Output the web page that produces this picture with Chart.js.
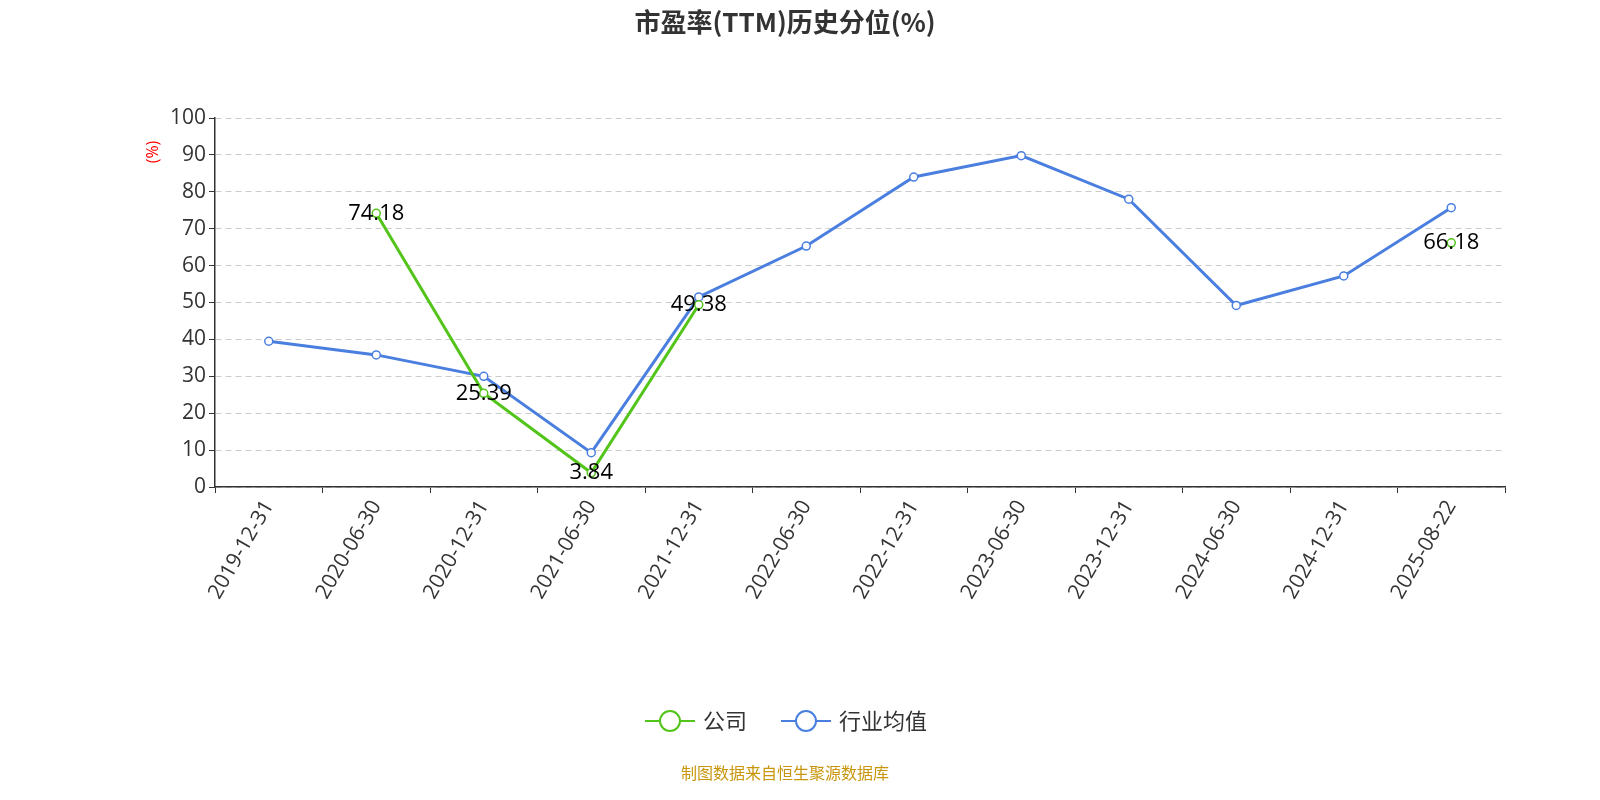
<!DOCTYPE html>
<html><head><meta charset="utf-8">
<script src="https://cdn.jsdelivr.net/npm/chart.js@4"></script>
<style>html,body{margin:0;padding:0;background:#fff;overflow:hidden}canvas{display:block}</style>
</head><body><canvas id="c" width="1600" height="800" style="width:1600px;height:800px"></canvas>
<script>
const categories=['2019-12-31','2020-06-30','2020-12-31','2021-06-30','2021-12-31','2022-06-30','2022-12-31','2023-06-30','2023-12-31','2024-06-30','2024-12-31','2025-08-22']
const companyValues=[null,74.18,25.39,3.84,49.38,null,null,null,null,null,null,66.18]
const industryValues=[39.5,35.8,30.0,9.3,51.5,65.3,84.0,89.8,78.0,49.2,57.2,75.7]
const yTicks=[0,10,20,30,40,50,60,70,80,90,100]
const FONT='"Open Sans","Noto Sans","Noto Sans CJK SC",sans-serif'
const CJK='"Noto Sans CJK SC",sans-serif'

const extras={
  id:'extras',
  afterDraw(chart){
    const ctx=chart.ctx
    ctx.save()
    ctx.fillStyle='#333'
    ctx.font='bold 26px '+CJK
    ctx.textAlign='center';ctx.textBaseline='middle'
    ctx.fillText('市盈率(TTM)历史分位(%)',785,22)
    ctx.save();ctx.translate(153,152);ctx.rotate(-Math.PI/2)
    ctx.fillStyle='#f00';ctx.font='16px '+FONT
    ctx.fillText('(%)',0,0);ctx.restore()
    const meta=chart.getDatasetMeta(0)
    ctx.fillStyle='#000';ctx.font='22px '+FONT
    meta.data.forEach((p,i)=>{
      if(companyValues[i]==null)return
      ctx.fillText(companyValues[i].toFixed(2),p.x,p.y)
    })
    const items=[['公司','#52c41a',645],['行业均值','#4a7fe0',781]]
    ctx.font='22px '+CJK;ctx.textAlign='left'
    items.forEach(([t,c,x])=>{
      ctx.strokeStyle=c;ctx.lineWidth=2
      ctx.beginPath();ctx.moveTo(x,721);ctx.lineTo(x+50,721);ctx.stroke()
      ctx.beginPath();ctx.arc(x+25,721,10,0,Math.PI*2);ctx.fillStyle='#fff';ctx.fill();ctx.stroke()
      ctx.fillStyle='#333';ctx.fillText(t,x+58,721)
    })
    ctx.fillStyle='#c8960c';ctx.font='16px '+CJK;ctx.textAlign='center'
    ctx.fillText('制图数据来自恒生聚源数据库',785,773)
    ctx.restore()
  }
}

new Chart(document.getElementById('c'),{
  type:'line',
  data:{labels:categories,datasets:[
    {label:'公司',data:companyValues,borderColor:'#52c41a',backgroundColor:'#fff',borderWidth:3,pointRadius:4,pointBorderWidth:1.5,tension:0,spanGaps:false},
    {label:'行业均值',data:industryValues,borderColor:'#4a7fe0',backgroundColor:'#fff',borderWidth:3,pointRadius:4,pointBorderWidth:1.5,tension:0}
  ]},
  options:{
    responsive:false,animation:false,devicePixelRatio:1,
    layout:{padding:{left:140,right:95,top:118,bottom:163}},
    plugins:{legend:{display:false},tooltip:{enabled:false}},
    scales:{
      x:{offset:true,
        grid:{offset:true,drawOnChartArea:false,drawTicks:true,tickLength:6,color:'#333'},
        border:{color:'#333',width:1.5},
        ticks:{color:'#333',font:{size:21,family:FONT},maxRotation:60,minRotation:60},
        afterFit(s){s.height=150}},
      y:{min:0,max:100,
        afterBuildTicks(s){s.ticks=yTicks.map(v=>({value:v}))},
        grid:{color:'#ccc',tickLength:6,tickColor:'#333'},
        border:{color:'#333',width:1.5,dash:[6,4]},
        ticks:{color:'#333',font:{size:21,family:FONT}},
        afterFit(s){s.width=75}}
    }
  },
  plugins:[extras]
})
</script></body></html>
